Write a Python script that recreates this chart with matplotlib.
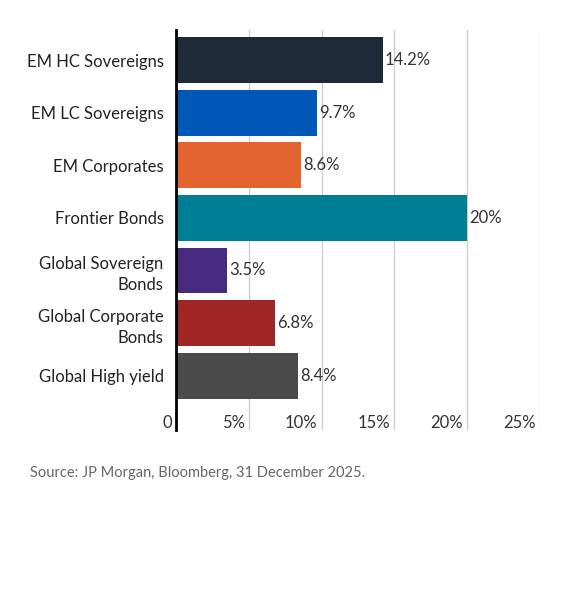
import matplotlib.pyplot as plt
from matplotlib.transforms import ScaledTranslation

categories = ["EM HC Sovereigns", "EM LC Sovereigns", "EM Corporates", "Frontier Bonds",
              "Global Sovereign\nBonds", "Global Corporate\nBonds", "Global High yield"]
values = [14.2, 9.7, 8.6, 20, 3.5, 6.8, 8.4]
value_labels = ["14.2%", "9.7%", "8.6%", "20%", "3.5%", "6.8%", "8.4%"]
colors = ["#1e2a3a", "#0057b8", "#e36330", "#007e96", "#472a80", "#a02526", "#4a4a4a"]
xticks = [0, 5, 10, 15, 20, 25]
xtick_labels = ["0", "5%", "10%", "15%", "20%", "25%"]

plt.rcParams["font.family"] = ["Lato", "DejaVu Sans"]

fig = plt.figure(figsize=(5.7, 6.02), dpi=100)
ax = fig.add_axes([0.309, 0.286, 0.638, 0.664])

pos = list(range(len(categories)))
ax.barh(pos, values, height=0.87, color=colors, zorder=3)
for p, v, lab in zip(pos, values, value_labels):
    ax.text(v + 0.12, p, lab, va="center", ha="left", fontsize=12, color="#333333", zorder=4)

ax.set_xlim(0, 25)
ax.set_ylim(7.03, -0.57)
ax.set_yticks(pos)
ax.set_yticklabels(categories, fontsize=12, color="#222222", linespacing=1.4)
ax.set_xticks(xticks)
ax.set_xticklabels(xtick_labels, fontsize=12, color="#333333")
ax.tick_params(axis="y", length=0, pad=9)
ax.tick_params(axis="x", length=0, direction="in", pad=-10.5)
shift = ScaledTranslation(-4 / 100, 0, fig.dpi_scale_trans)
for lab in ax.get_xticklabels():
    lab.set_horizontalalignment("right")
    lab.set_transform(lab.get_transform() + shift)
ax.grid(axis="x", color="#cccccc", linewidth=0.9, zorder=0)
for s in ["top", "right", "bottom"]:
    ax.spines[s].set_visible(False)
ax.spines["left"].set_linewidth(2)
ax.spines["left"].set_color("black")
ax.spines["left"].set_zorder(5)

fig.text(30 / 570, 1 - 473 / 602, "Source: JP Morgan, Bloomberg, 31 December 2025.",
         fontsize=10.5, color="#666666", va="center", ha="left")

fig.savefig("out.png", dpi=100, facecolor="white")
